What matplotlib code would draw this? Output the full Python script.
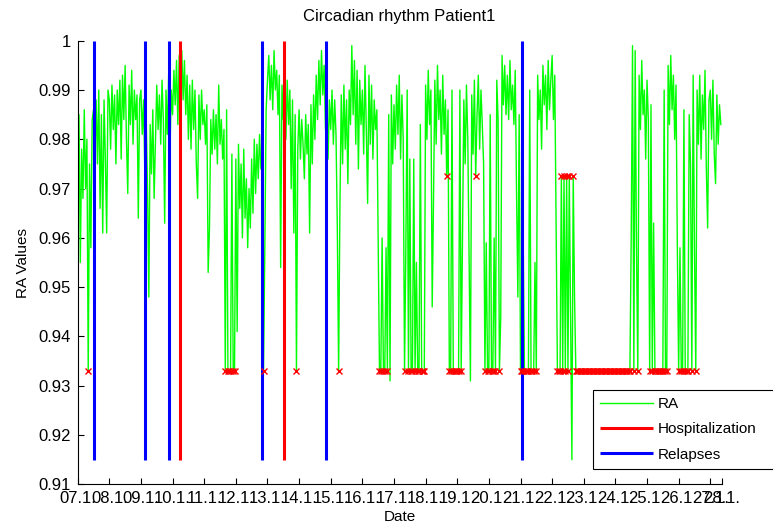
import numpy as np
import matplotlib
matplotlib.use("Agg")
import matplotlib.pyplot as plt

plt.rcParams["font.family"] = ["Liberation Sans", "DejaVu Sans"]
plt.rcParams["font.size"] = 11

# fill levels used for hours without a valid RA estimate
LO = 0.9329
HI = 0.9726

# hourly RA values, one list per day (07.1. 00:00 onwards)
ra_07 = [0.964, 0.985, 0.955, 0.978, 0.968, 0.986, 0.970, 0.980, LO, 0.975, 0.958, 0.984,
         0.986, 0.975, 0.988, 0.975, 0.990, 0.966, 0.985, 0.961, 0.988, 0.976, 0.961, 0.990]
ra_08 = [0.988, 0.978, 0.991, 0.982, 0.989, 0.975, 0.990, 0.983, 0.992, 0.976, 0.993, 0.984,
         0.995, 0.980, 0.969, 0.991, 0.983, 0.994, 0.979, 0.990, 0.984, 0.989, 0.964, 0.988]
ra_09 = [0.990, 0.981, 0.988, 0.972, 0.984, 0.970, 0.948, 0.983, 0.973, 0.986, 0.968, 0.980,
         0.991, 0.982, 0.989, 0.979, 0.992, 0.984, 0.963, 0.990, 0.981, 0.993, 0.977, 0.990]
ra_10 = [0.985, 0.994, 0.987, 0.996, 0.983, 0.997, 0.990, 0.998, 0.988, 0.996, 0.985, 0.993,
         0.980, 0.991, 0.978, 0.992, 0.982, 0.990, 0.975, 0.968, 0.989, 0.980, 0.990, 0.983]
ra_11 = [0.986, 0.979, 0.987, 0.953, 0.962, 0.984, 0.977, 0.986, 0.978, 0.985, 0.975, 0.991,
         0.979, 0.984, 0.976, 0.982, LO, 0.986, LO, LO, LO, 0.977, LO, LO]
ra_12 = [0.976, 0.941, 0.979, 0.966, 0.975, 0.960, 0.978, 0.964, 0.972, 0.958, 0.970, 0.962,
         0.976, 0.965, 0.980, 0.969, 0.979, 0.972, 0.981, 0.974, 0.978, LO, 0.958, 0.986]
ra_13 = [0.992, 0.997, 0.988, 0.995, 0.986, 0.998, 0.990, 0.994, 0.985, 0.993, 0.954, 0.991,
         0.984, 0.995, 0.980, 0.992, 0.983, 0.990, 0.970, 0.988, 0.961, 0.985, LO, 0.978]
ra_14 = [0.986, 0.976, 0.984, 0.979, 0.972, 0.985, 0.977, 0.983, 0.961, 0.987, 0.975, 0.989,
         0.980, 0.993, 0.984, 0.996, 0.987, 0.998, 0.989, 0.995, 0.982, 0.990, 0.976, 0.988]
ra_15 = [0.982, 0.990, 0.979, 0.988, 0.981, 0.962, LO, 0.967, 0.989, 0.975, 0.991, 0.978,
         0.988, 0.971, 0.990, 0.983, 0.999, 0.985, 0.996, 0.979, 0.994, 0.974, 0.992, 0.983]
ra_16 = [0.990, 0.977, 0.995, 0.982, 0.967, 0.993, 0.979, 0.991, 0.976, 0.988, 0.982, 0.986,
         0.960, LO, LO, 0.960, LO, LO, 0.958, LO, 0.985, 0.931, 0.989, 0.975]
ra_17 = [0.987, 0.978, 0.991, 0.981, 0.993, 0.976, 0.989, 0.980, LO, 0.958, 0.990, LO,
         0.976, LO, LO, 0.976, LO, 0.955, LO, LO, 0.983, LO, LO, LO]
ra_18 = [0.991, 0.980, 0.994, 0.983, 0.990, 0.946, 0.968, 0.992, 0.979, 0.995, 0.984, 0.990,
         0.977, 0.993, 0.981, 0.988, HI, 0.986, LO, LO, 0.990, LO, LO, LO]
ra_19 = [LO, LO, 0.990, LO, 0.960, 0.988, 0.975, 0.991, 0.980, 0.955, 0.931, 0.989,
         0.977, 0.992, HI, 0.985, 0.993, 0.978, 0.990, 0.983, 0.975, LO, 0.959, LO]
ra_20 = [LO, 0.985, LO, LO, 0.960, LO, 0.992, 0.984, LO, 0.944, 0.997, 0.987,
         0.995, 0.985, 0.993, 0.984, 0.996, 0.986, 0.991, 0.983, 0.994, 0.969, 0.948, 0.985]
ra_21 = [LO, LO, 0.961, LO, LO, LO, LO, 0.990, LO, LO, LO, 0.955,
         LO, 0.993, 0.984, 0.990, 0.978, 0.995, 0.987, 0.993, 0.982, 0.996, 0.986, 0.992]
ra_22 = [0.997, 0.984, 0.993, 0.962, LO, LO, LO, HI, LO, HI, LO, HI,
         LO, HI, 0.944, 0.915, HI, 0.948, LO, LO, LO, LO, LO, LO]
ra_23 = [LO, LO, LO, LO, LO, LO, LO, LO, LO, LO, LO, LO,
         LO, LO, LO, LO, LO, LO, LO, LO, LO, LO, LO, LO]
ra_24 = [LO, LO, LO, LO, LO, LO, LO, LO, LO, LO, LO, LO,
         0.960, 0.999, LO, 0.998, 0.958, LO, 0.993, 0.982, 0.996, 0.985, 0.990, 0.976]
ra_25 = [0.992, 0.984, LO, 0.987, LO, 0.963, LO, LO, LO, LO, LO, LO,
         LO, 0.990, LO, LO, 0.995, 0.983, 0.997, 0.986, 0.993, 0.980, 0.991, 0.958]
ra_26 = [LO, 0.958, LO, LO, 0.986, LO, LO, LO, 0.985, 0.975, LO, 0.993,
         0.958, LO, 0.990, 0.979, 0.993, 0.976, 0.989, 0.982, 0.994, 0.974, 0.962, 0.988]
ra_27 = [0.990, 0.980, 0.992, 0.977, 0.971, 0.989, 0.979, 0.987, 0.983]

# events, in days after 07.1. 00:00
relapse_days = [0.515, 2.118, 2.896, 5.827, 7.841, 14.037]
hospital_days = [3.225, 6.522]
event_bottom = 0.915
event_top = 1.0

tick_days = [0, 1, 2, 3, 4, 5, 6, 7, 8, 9, 10, 11, 12, 13, 14, 15, 16, 17, 18, 19, 20, 20.36]
tick_labels = ["07.1.", "08.1.", "09.1.", "10.1.", "11.1.", "12.1.", "13.1.", "14.1.",
               "15.1.", "16.1.", "17.1.", "18.1.", "19.1.", "20.1.", "21.1.", "22.1.",
               "23.1.", "24.1.", "25.1.", "26.1.", "27.1.", "28.1."]
y_ticks = [0.91, 0.92, 0.93, 0.94, 0.95, 0.96, 0.97, 0.98, 0.99, 1.0]
y_labels = ["0.91", "0.92", "0.93", "0.94", "0.95", "0.96", "0.97", "0.98", "0.99", "1"]

ra = np.array(ra_07 + ra_08 + ra_09 + ra_10 + ra_11 + ra_12 + ra_13 + ra_14 + ra_15 + ra_16
              + ra_17 + ra_18 + ra_19 + ra_20 + ra_21 + ra_22 + ra_23 + ra_24 + ra_25 + ra_26
              + ra_27)
t = np.arange(len(ra)) / 24.0
missing = np.isin(ra, [LO, HI])

fig = plt.figure(figsize=(7.73, 5.28), dpi=100)
ax = fig.add_axes([0.1005, 0.0826, 0.8331, 0.8403])

ax.plot(t, ra, color=(0, 1, 0), lw=1.0, label="RA")
ax.vlines(hospital_days, event_bottom, event_top, colors=(1, 0, 0), lw=2.2, label="Hospitalization")
ax.vlines(relapse_days, event_bottom, event_top, colors=(0, 0, 1), lw=2.2, label="Relapses")
ax.plot(t[missing], ra[missing], "x", color=(1, 0, 0), ms=5, mew=1)

ax.set_xlim(0, 20.36)
ax.set_ylim(0.91, 1.0)
ax.set_xticks(tick_days)
ax.set_xticklabels(tick_labels)
ax.set_yticks(y_ticks)
ax.set_yticklabels(y_labels)
ax.spines["top"].set_visible(False)
ax.spines["right"].set_visible(False)
ax.tick_params(direction="in", length=4, width=0.8, pad=5, labelsize=12)

ax.set_title("Circadian rhythm Patient1", fontsize=12, pad=14)
ax.set_xlabel("Date", labelpad=3)
ax.set_ylabel("RA Values", labelpad=6)

leg = ax.legend(loc="upper left",
                bbox_to_anchor=(593 / 773, 1 - 469 / 528, 200 / 773, 79 / 528),
                bbox_transform=fig.transFigure, mode="expand", fancybox=False,
                edgecolor="black", framealpha=1, handlelength=3.5, handletextpad=0.3,
                labelspacing=0.75, borderpad=0.45, borderaxespad=0)
leg.get_frame().set_linewidth(0.8)

fig.savefig("out.png", dpi=100)
